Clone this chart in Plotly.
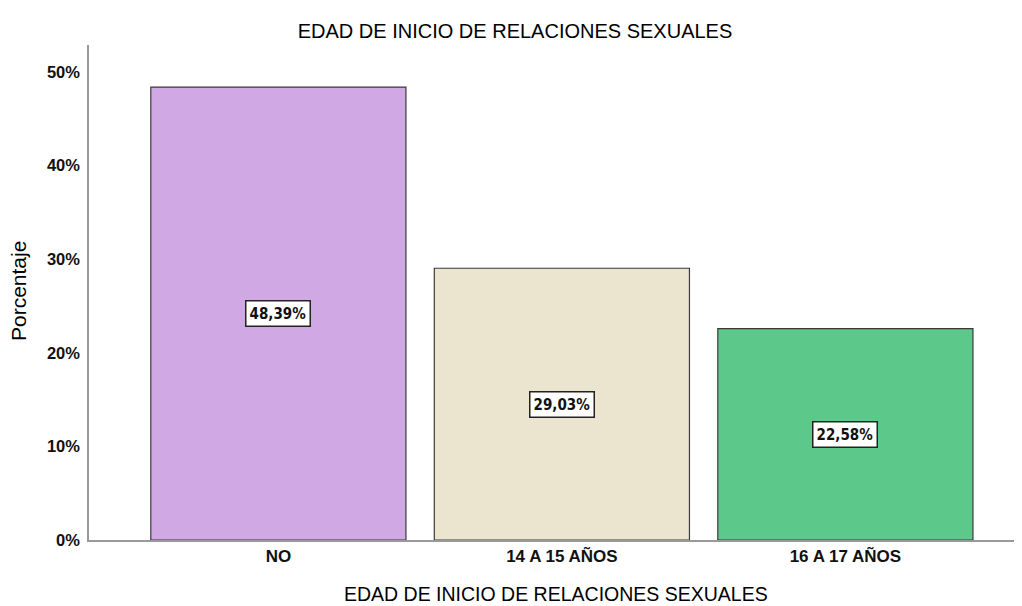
import plotly.graph_objects as go

categories = ["NO", "14 A 15 AÑOS", "16 A 17 AÑOS"]
values = [48.39, 29.03, 22.58]
labels = ["48,39%", "29,03%", "22,58%"]
colors = ["#d0a8e4", "#ebe4cf", "#5cc98a"]
y_ticks = [0, 10, 20, 30, 40, 50]
y_tick_text = ["0%", "10%", "20%", "30%", "40%", "50%"]

FONT = "Liberation Sans, Arial, sans-serif"
OFF = 8  # default page body margin
W, H = 1022 - OFF, 606 - OFF
L, R, T, B = 89 - OFF, 0, 45 - OFF, 66

fig = go.Figure()
fig.add_trace(go.Bar(
    x=categories, y=values, width=0.9,
    marker=dict(color=colors, line=dict(color="#3a3a3a", width=1.2)),
    hoverinfo="skip",
))

for c, v, t in zip(categories, values, labels):
    fig.add_annotation(
        x=c, y=v / 2, text="<b>" + t + "</b>", showarrow=False,
        font=dict(family="Liberation Sans Narrow, DejaVu Sans Condensed, " + FONT, size=15, color="#111111"),
        bgcolor="white", bordercolor="#222222", borderwidth=1.5, borderpad=3,
    )

ph = H - T - B
pw = W - L - R
bottom_px = 540  # page pixel of the x axis
fig.add_annotation(
    text="EDAD DE INICIO DE RELACIONES SEXUALES", showarrow=False,
    xref="paper", yref="paper", x=0.5, y=(bottom_px - 594) / ph, xanchor="center", yanchor="middle",
    font=dict(family=FONT, size=19.5, color="#000000"),
)
fig.add_annotation(
    text="Porcentaje", showarrow=False, textangle=-90,
    xref="paper", yref="paper", x=(18 - 89) / pw, y=(bottom_px - 291) / ph, xanchor="center", yanchor="middle",
    font=dict(family=FONT, size=21, color="#000000"),
)

fig.update_layout(
    width=W, height=H,
    margin=dict(l=L, r=R, t=T, b=B),
    paper_bgcolor="white", plot_bgcolor="white",
    showlegend=False,
    title=dict(text="EDAD DE INICIO DE RELACIONES SEXUALES", x=0.5, xanchor="center",
               y=1 - (31 - OFF) / H, yanchor="middle",
               font=dict(family=FONT, size=20, color="#000000")),
    font=dict(family=FONT, color="#111111"),
)
fig.update_xaxes(
    range=[-0.668, 2.623], showline=True, linecolor="#999999", linewidth=1.5,
    showgrid=False, ticks="", automargin=False,
    tickfont=dict(size=17, family=FONT),
    tickprefix="<b>", ticksuffix="</b>",
)
fig.update_yaxes(
    range=[0, 52.88], showline=True, linecolor="#999999", linewidth=1.5,
    showgrid=False, zeroline=False, ticks="", automargin=False,
    tickvals=y_ticks, ticktext=["<b>" + t + "</b>" for t in y_tick_text],
    tickfont=dict(size=16.5, family=FONT), ticklabelstandoff=4,
)

fig.write_html("out.html")
